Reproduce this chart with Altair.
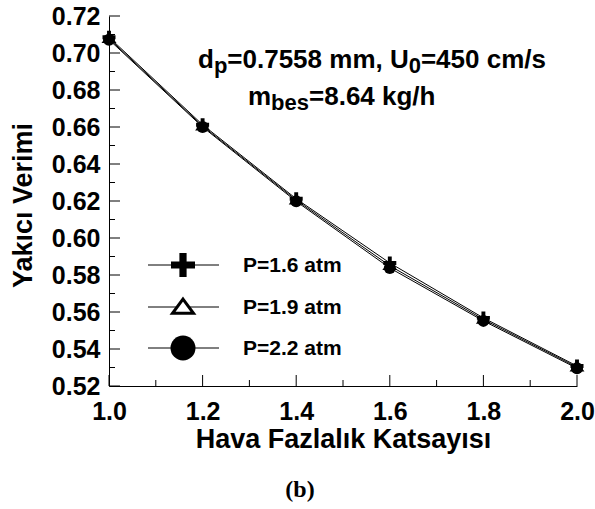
import altair as alt
import pandas as pd

# ---- data ----
hava = [1.0, 1.2, 1.4, 1.6, 1.8, 2.0]
p16 = [0.7085, 0.6612, 0.6212, 0.5865, 0.5568, 0.5308]
p19 = [0.7078, 0.6605, 0.6205, 0.5850, 0.5560, 0.5302]
p22 = [0.7072, 0.6600, 0.6198, 0.5838, 0.5552, 0.5296]
series_labels = ["P=1.6 atm", "P=1.9 atm", "P=2.2 atm"]

x_major = [1.0, 1.2, 1.4, 1.6, 1.8, 2.0]
x_minor = [1.1, 1.3, 1.5, 1.7, 1.9]
y_major = [0.52, 0.54, 0.56, 0.58, 0.60, 0.62, 0.64, 0.66, 0.68, 0.70, 0.72]
y_minor = [0.53, 0.55, 0.57, 0.59, 0.61, 0.63, 0.65, 0.67, 0.69, 0.71]

rows = []
for lab, vals in zip(series_labels, [p16, p19, p22]):
    for xv, yv in zip(hava, vals):
        rows.append({"x": xv, "y": yv, "series": lab})
df = pd.DataFrame(rows)

W, H = 468, 370
FONT = "Liberation Sans"
SERIF = "Liberation Serif"

CROSS = "M-1,-0.3H-0.3V-1H0.3V-0.3H1V0.3H0.3V1H-0.3V0.3H-1Z"
TRI = "M0,-0.75L1,0.6L-1,0.6Z"

xs = alt.Scale(domain=[1.0, 2.0], nice=False, zero=False)
ys = alt.Scale(domain=[0.52, 0.72], nice=False, zero=False)

xaxis = alt.Axis(values=x_major, format=".1f", ticks=False, grid=False,
                 labelFont=FONT, labelFontSize=25, labelFontWeight="bold", labelColor="black",
                 labelPadding=13, labelFlush=False, labelOverlap=False, labelBound=False,
                 domainColor="black", domainWidth=1,
                 title="Hava Fazlalık Katsayısı", titleFont=FONT, titleFontSize=27,
                 titleFontWeight="bold", titleColor="black", titleBaseline="alphabetic",
                 titleAlign="center", titleX=W / 2, titleY=61)
yaxis = alt.Axis(values=y_major, format=".2f", ticks=False, grid=False,
                 labelFont=FONT, labelFontSize=25, labelFontWeight="bold", labelColor="black",
                 labelPadding=9, labelFlush=False, labelOverlap=False, labelBound=False,
                 domainColor="black", domainWidth=1,
                 title="Yakıcı Verimi", titleFont=FONT, titleFontSize=27,
                 titleFontWeight="bold", titleColor="black", titleBaseline="alphabetic",
                 titleAlign="center", titleAngle=270, titleX=-78, titleY=189)

X = lambda: alt.X("x:Q", scale=xs, axis=xaxis)
Y = lambda: alt.Y("y:Q", scale=ys, axis=yaxis)

base = alt.Chart(df)

lines = base.mark_line(color="black", strokeWidth=1).encode(
    x=X(), y=Y(), detail="series:N",
)

def pts(label, shape, size, fill, stroke_w):
    return base.transform_filter(alt.datum.series == label).mark_point(
        shape=shape, size=size, filled=True, fill=fill, stroke="black",
        strokeWidth=stroke_w, opacity=1,
    ).encode(x=X(), y=Y())

p_cross = pts(series_labels[0], CROSS, 169, "black", 0)
p_tri = pts(series_labels[1], TRI, 144, "white", 1.5)
p_circ = pts(series_labels[2], "circle", 144, "black", 0)

# inward ticks
ymaj = alt.Chart(pd.DataFrame({"y": y_major})).mark_rule(color="black", strokeWidth=1).encode(
    y=Y(), x=alt.value(0), x2=alt.value(11))
ymin = alt.Chart(pd.DataFrame({"y": y_minor})).mark_rule(color="black", strokeWidth=1).encode(
    y=Y(), x=alt.value(0), x2=alt.value(6))
xmaj = alt.Chart(pd.DataFrame({"x": x_major})).mark_rule(color="black", strokeWidth=1).encode(
    x=X(), y=alt.value(H), y2=alt.value(H - 11))
xmin = alt.Chart(pd.DataFrame({"x": x_minor})).mark_rule(color="black", strokeWidth=1).encode(
    x=X(), y=alt.value(H), y2=alt.value(H - 6))

# legend (drawn inside plot)
leg_layers = []
leg_rows = [249, 291, 332]
leg_shapes = [(CROSS, 576, "black", 0), (TRI, 441, "white", 3), ("circle", 625, "black", 0)]
one = pd.DataFrame({"a": [0]})
for ry, lab, (shp, sz, fl, sw) in zip(leg_rows, series_labels, leg_shapes):
    leg_layers.append(alt.Chart(one).mark_rule(color="black", strokeWidth=1).encode(
        x=alt.value(39), x2=alt.value(110), y=alt.value(ry)))
    leg_layers.append(alt.Chart(one).mark_point(
        shape=shp, size=sz, filled=True, fill=fl, stroke="black", strokeWidth=sw, opacity=1
    ).encode(x=alt.value(74), y=alt.value(ry)))
    leg_layers.append(alt.Chart(one).mark_text(
        align="left", baseline="middle", font=FONT, fontSize=21, fontWeight="bold", color="black"
    ).encode(x=alt.value(134), y=alt.value(ry + 1), text=alt.value(lab)))

# annotation with subscripts (Arial-bold advance widths, per 1000 em)
ADV = {'d': 611, 'p': 611, '=': 584, '.': 278, ' ': 278, 'm': 889, ',': 278, 'U': 722,
       'c': 556, '/': 278, 's': 556, 'b': 611, 'e': 556, 'k': 556, 'g': 611, 'h': 611}
def adv(t, fs):
    return sum(ADV.get(ch, 556) for ch in t) * fs / 1000.0

MAIN, SUB, DROP = 26, 22, 5
ann_lines = [
    (89, 52, [("d", False), ("p", True), ("=0.7558 mm, U", False), ("0", True), ("=450 cm/s", False)]),
    (139, 89, [("m", False), ("bes", True), ("=8.64 kg/h", False)]),
]
ann_layers = []
for x0, yb, segs in ann_lines:
    cx = x0
    for t, sub in segs:
        fs = SUB if sub else MAIN
        ann_layers.append(alt.Chart(one).mark_text(
            align="left", baseline="alphabetic", font=FONT, fontSize=fs, fontWeight="bold", color="black"
        ).encode(x=alt.value(cx), y=alt.value(yb + (DROP if sub else 0)), text=alt.value(t)))
        cx += adv(t, fs)

caption = alt.Chart(one).mark_text(
    align="center", baseline="alphabetic", font=SERIF, fontSize=24, fontWeight="bold", color="black"
).encode(x=alt.value(191), y=alt.value(481), text=alt.value("(b)"))

chart = alt.layer(
    lines, ymaj, ymin, xmaj, xmin, p_cross, p_tri, p_circ, *leg_layers, *ann_layers, caption
).properties(
    width=W, height=H,
    autosize=alt.AutoSizeParams(type="none"),
    padding={"left": 109, "top": 16, "right": 18, "bottom": 123},
    background="white",
).configure_view(stroke=None)

chart.save("out.html", embed_options={"renderer": "svg", "actions": False})
